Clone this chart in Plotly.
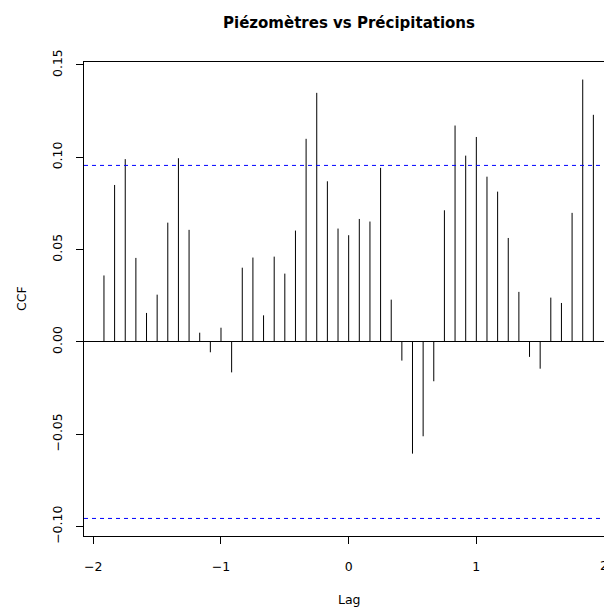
import plotly.graph_objects as go

# ---- data ----
lag_months = list(range(-23, 24))
lags = [m / 12 for m in lag_months]
ccf_values = [
    0.0360, 0.0850, 0.0990, 0.0455, 0.0157, 0.0256, 0.0646, 0.0995,
    0.0607, 0.0050, -0.0056, 0.0077, -0.0165, 0.0402, 0.0457, 0.0144,
    0.0462, 0.0370, 0.0603, 0.1100, 0.1349, 0.0870, 0.0614, 0.0578,
    0.0666, 0.0652, 0.0943, 0.0229, -0.0101, -0.0605, -0.0511, -0.0213,
    0.0713, 0.1172, 0.1009, 0.1110, 0.0895, 0.0814, 0.0563, 0.0271,
    -0.0081, -0.0145, 0.0240, 0.0211, 0.0699, 0.1421, 0.1230,
]
ci = 0.0956
x_ticks = [-2, -1, 0, 1, 2]
x_tick_labels = ["\u22122", "\u22121", "0", "1", "2"]
y_ticks = [-0.10, -0.05, 0.00, 0.05, 0.10, 0.15]
y_tick_labels = ["\u22120.10", "\u22120.05", "0.00", "0.05", "0.10", "0.15"]
title_text = "Piézomètres vs Précipitations"

FONT = "DejaVu Sans, Liberation Sans, sans-serif"
FS = 12.5

# spikes built from the data
xs, ys = [], []
for l, v in zip(lags, ccf_values):
    xs += [l, l, None]
    ys += [0, v, None]

fig = go.Figure()
fig.add_trace(go.Scatter(x=xs, y=ys, mode="lines",
                         line=dict(color="black", width=1),
                         hoverinfo="skip", showlegend=False))

for c in (ci, -ci):
    fig.add_shape(type="line", xref="paper", x0=0, x1=1, yref="y", y0=c, y1=c,
                  line=dict(color="#0000FF", width=1, dash="4px,4px"))

ymin = min(min(ccf_values), -ci)
ymax = max(max(ccf_values), ci)
pad = 0.04 * (ymax - ymin)

x_lo, x_hi = -2.073, 2.0

# the last tick label sits on the window edge (half cut off, as in the reference)
edge_labels = [
    dict(text=x_tick_labels[-1], xref="paper", yref="paper",
         x=(x_ticks[-1] - x_lo) / (x_hi - x_lo), y=-(565 - 536) / 474,
         showarrow=False, xanchor="center", yanchor="middle",
         font=dict(family=FONT, size=FS, color="black")),
]

fig.update_layout(
    width=604, height=609,
    margin=dict(l=84, r=0, t=62, b=73),
    paper_bgcolor="white", plot_bgcolor="white",
    font=dict(family=FONT, size=FS, color="black"),
    title=dict(text="<b>" + title_text + "</b>", xref="container", yref="container",
               x=349 / 604, y=1 - 23 / 609, xanchor="center", yanchor="middle",
               font=dict(family=FONT, size=15, color="black")),
    xaxis=dict(range=[x_lo, x_hi], tickvals=x_ticks[:-1], ticktext=x_tick_labels[:-1],
               ticks="outside", ticklen=7, tickwidth=1, tickcolor="black",
               showline=True, linecolor="black", linewidth=1, mirror=True,
               showgrid=False, zeroline=False, ticklabelstandoff=12,
               tickfont=dict(family=FONT, size=FS, color="black")),
    yaxis=dict(range=[ymin - pad, ymax + pad], tickvals=y_ticks, ticktext=y_tick_labels,
               ticks="outside", ticklen=7, tickwidth=1, tickcolor="black",
               tickangle=-90, showline=True, linecolor="black", linewidth=1,
               showgrid=False, zeroline=True, zerolinecolor="black", zerolinewidth=1,
               ticklabelstandoff=9,
               tickfont=dict(family=FONT, size=FS, color="black")),
    annotations=[
        dict(text="Lag", xref="paper", yref="paper", x=(349 - 84) / 520,
             y=-(599.5 - 536) / 474, showarrow=False, xanchor="center", yanchor="middle",
             font=dict(family=FONT, size=FS, color="black")),
        dict(text="CCF", xref="paper", yref="paper", x=-(84 - 21) / 520,
             y=0.5, showarrow=False, textangle=-90, xanchor="center", yanchor="middle",
             font=dict(family=FONT, size=FS, color="black")),
    ] + edge_labels,
)

fig.write_html(
    "out.html",
    config={"displayModeBar": False},
    post_script=(
        "document.body.style.margin='0';"
        "document.body.style.overflow='hidden';"
        "document.documentElement.style.overflow='hidden';"
    ),
)
